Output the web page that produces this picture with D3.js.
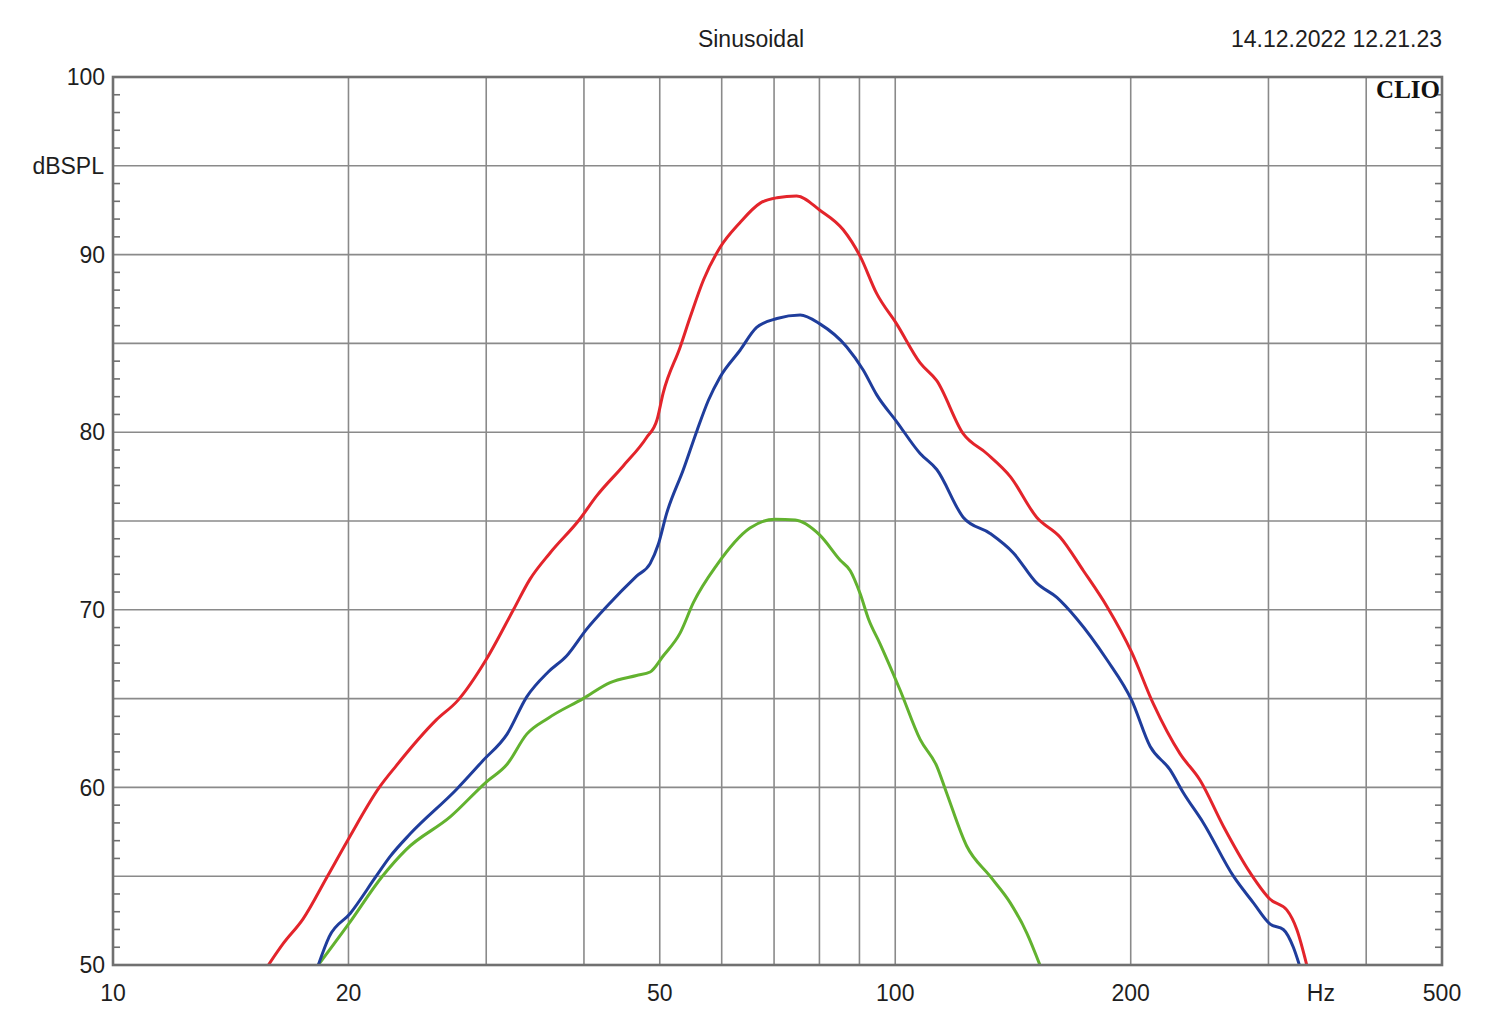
<!DOCTYPE html>
<html>
<head>
<meta charset="utf-8">
<script src="https://cdn.jsdelivr.net/npm/d3@7"></script>
<style>
  html, body { margin: 0; padding: 0; background: #ffffff; }
  svg { display: block; }
  text { font-family: "Liberation Sans", Arial, sans-serif; fill: #1e1e1e; }
</style>
</head>
<body>
<svg id="chart" width="1500" height="1028"></svg>
<script>
// ---------- data ----------
const redFreq = [15.8,16.5,17.5,18.8,20.0,21.9,23.0,25.9,27.6,30.0,32.5,34.1,36.2,39.5,41.5,44.9,48.1,49.6,50.5,53.1,54.7,56.9,59.7,63.3,67.2,70.6,74.8,80.1,85.8,90.2,94.7,100.4,107.6,113.0,122.2,130.9,140.3,151.7,162.4,174.0,186.4,200.6,213.8,231.2,245.3,262.8,284.2,301.5,316.6,326.1,335.8];
const redDb   = [50.0,51.2,52.6,55.0,57.1,60.0,61.2,63.8,64.9,67.2,70.0,71.7,73.2,75.1,76.4,78.1,79.7,80.7,82.2,84.8,86.5,88.6,90.4,91.8,92.9,93.2,93.3,92.5,91.4,89.9,87.8,86.1,83.9,82.9,79.9,78.8,77.5,75.2,74.1,72.2,70.2,67.6,64.7,61.9,60.4,57.8,55.2,53.7,53.1,52.0,50.0];

const blueFreq = [18.3,18.9,20.1,21.7,22.6,24.0,27.5,29.7,31.9,33.8,36.0,38.0,40.3,42.8,46.7,48.6,49.8,51.0,53.6,55.8,57.7,59.7,63.3,66.5,70.6,75.6,80.1,86.7,91.0,94.7,100.4,107.6,113.0,122.2,132.2,141.6,151.7,160.9,170.6,186.4,200.6,211.8,224.5,233.5,247.7,270.6,287.0,301.5,313.4,322.8,328.6];
const blueDb   = [50.0,51.6,52.9,55.0,56.1,57.4,59.9,61.5,63.0,65.1,66.5,67.4,68.9,70.2,71.9,72.6,73.7,75.4,77.9,80.1,81.8,83.1,84.6,85.9,86.4,86.6,86.1,84.8,83.5,82.1,80.6,78.8,77.9,75.2,74.3,73.2,71.5,70.7,69.5,67.2,64.9,62.3,61.0,59.7,58.0,55.0,53.5,52.3,52.0,51.0,50.0];

const greenFreq = [18.3,20.0,22.1,23.7,27.0,30.0,31.9,33.8,36.0,39.9,43.2,46.7,48.6,50.5,53.1,55.2,59.1,65.2,70.2,74.5,80.1,85.0,87.6,90.2,92.4,95.6,101.4,107.6,113.0,116.3,123.4,132.2,140.3,147.3,153.1];
const greenDb   = [50.0,52.3,55.0,56.5,58.35,60.3,61.3,63.0,63.9,65.0,65.9,66.3,66.5,67.4,68.7,70.4,72.5,74.6,75.1,75.05,74.2,72.8,72.2,70.9,69.5,68.1,65.5,62.7,61.2,59.7,56.7,55.0,53.5,51.8,50.0];

const xTickValues = [10, 20, 50, 100, 200, 500];
const xTickLabels = ["10", "20", "50", "100", "200", "500"];
const xGridValues = [20, 30, 40, 50, 60, 70, 80, 90, 100, 200, 300, 400];
const yTickValues = [100, 90, 80, 70, 60, 50];
const yGridValues = [55, 60, 65, 70, 75, 80, 85, 90, 95];
const titleText = "Sinusoidal";
const dateText = "14.12.2022 12.21.23";
const yUnit = "dBSPL";
const xUnit = "Hz";
const brand = "CLIO";

// ---------- layout ----------
const pL = 113, pR = 1442, pT = 77, pB = 965;
const svg = d3.select("#chart");

const x = d3.scaleLog().domain([10, 500]).range([pL, pR]);
const y = d3.scaleLinear().domain([50, 100]).range([pB, pT]);

const gridColor = "#8a8a8a";
const frameColor = "#707070";

// grid
svg.append("g").selectAll("line").data(xGridValues).join("line")
  .attr("x1", d => x(d)).attr("x2", d => x(d))
  .attr("y1", pT).attr("y2", pB)
  .attr("stroke", gridColor).attr("stroke-width", 1.6);
svg.append("g").selectAll("line").data(yGridValues).join("line")
  .attr("x1", pL).attr("x2", pR)
  .attr("y1", d => y(d)).attr("y2", d => y(d))
  .attr("stroke", gridColor).attr("stroke-width", 1.6);

// minor ticks (1 dB) on left and right
const minor = d3.range(51, 100).filter(v => v % 5 !== 0);
svg.append("g").selectAll("line").data(minor).join("line")
  .attr("x1", pL).attr("x2", pL + 7)
  .attr("y1", d => y(d)).attr("y2", d => y(d))
  .attr("stroke", frameColor).attr("stroke-width", 1.6);
svg.append("g").selectAll("line").data(minor).join("line")
  .attr("x1", pR - 7).attr("x2", pR)
  .attr("y1", d => y(d)).attr("y2", d => y(d))
  .attr("stroke", frameColor).attr("stroke-width", 1.6);

// curves
svg.append("clipPath").attr("id", "clip").append("rect")
  .attr("x", pL).attr("y", pT).attr("width", pR - pL).attr("height", pB - pT);

const line = d3.line()
  .x(d => x(d[0])).y(d => y(d[1]))
  .curve(d3.curveMonotoneX);

const series = [
  { f: greenFreq, v: greenDb, color: "#62b22f" },
  { f: blueFreq, v: blueDb, color: "#1f3d9c" },
  { f: redFreq, v: redDb, color: "#e3242b" }
];
const gCurves = svg.append("g").attr("clip-path", "url(#clip)");
series.forEach(s => {
  const pts = s.f.map((f, i) => [f, s.v[i]]);
  gCurves.append("path").datum(pts)
    .attr("d", line)
    .attr("fill", "none")
    .attr("stroke", s.color)
    .attr("stroke-width", 3)
    .attr("stroke-linejoin", "round");
});

// frame
svg.append("rect")
  .attr("x", pL).attr("y", pT).attr("width", pR - pL).attr("height", pB - pT)
  .attr("fill", "none").attr("stroke", frameColor).attr("stroke-width", 2.6);

// y labels
svg.append("g").selectAll("text").data(yTickValues).join("text")
  .attr("x", 105).attr("y", d => y(d)).attr("dy", "0.36em")
  .attr("text-anchor", "end").attr("font-size", 23)
  .text(d => d);
svg.append("text").attr("x", 104).attr("y", y(95)).attr("dy", "0.36em")
  .attr("text-anchor", "end").attr("font-size", 23).text(yUnit);

// x labels
svg.append("g").selectAll("text").data(xTickValues).join("text")
  .attr("x", d => x(d)).attr("y", 1001)
  .attr("text-anchor", "middle").attr("font-size", 23)
  .text((d, i) => xTickLabels[i]);
svg.append("text").attr("x", x(350)).attr("y", 1001)
  .attr("text-anchor", "middle").attr("font-size", 23).text(xUnit);

// title and date
svg.append("text").attr("x", 751).attr("y", 47)
  .attr("text-anchor", "middle").attr("font-size", 23).text(titleText);
svg.append("text").attr("x", 1442).attr("y", 47)
  .attr("text-anchor", "end").attr("font-size", 23).text(dateText);

// brand
svg.append("text").attr("x", 1440).attr("y", 98)
  .attr("text-anchor", "end").attr("font-size", 25)
  .style("font-family", "'Liberation Serif', 'Times New Roman', serif")
  .style("font-weight", "bold").style("fill", "#111")
  .text(brand);
</script>
</body>
</html>
